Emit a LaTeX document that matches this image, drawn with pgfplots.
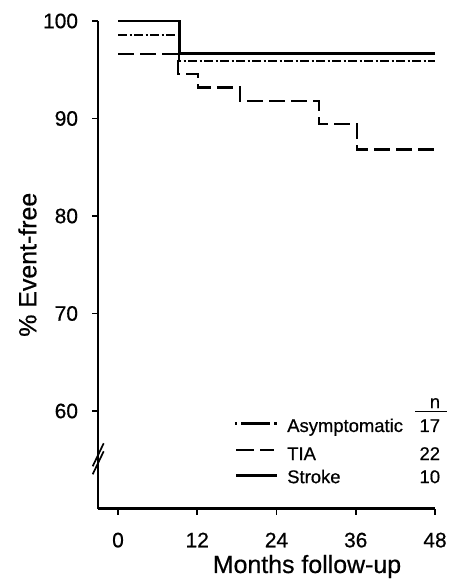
\documentclass[border=0pt]{standalone}
\usepackage{fontspec}
\setmainfont{Liberation Sans}[FakeBold=0.6]
\usepackage{pgfplots}
\pgfplotsset{compat=1.18}
\begin{document}
\begin{tikzpicture}
\useasboundingbox (-98.2bp,-73.5bp) rectangle (354.8bp,508.5bp);
\begin{axis}[
 scale only axis, width=336.8bp, height=487.5bp,
 xmin=-3, xmax=48, ymin=50, ymax=100,
 axis x line*=bottom, axis y line*=left,
 axis line style={line width=2.2bp},
 xtick={0,12,24,36,48}, ytick={60,70,80,90,100},
 tick align=outside, major tick length=6bp,
 tick style={line width=1.6bp, black},
 ticklabel style={font=\fontsize{21}{24}\selectfont},
 yticklabel style={anchor=east, inner sep=0pt, xshift=-14bp},
 xticklabel style={anchor=north, inner sep=0pt, yshift=-18bp},
 /pgf/number format/assume math mode=true,
 xlabel={Months follow-up}, ylabel={\% Event-free},
 label style={font=\fontsize{25}{28}\selectfont},
 xlabel style={at={(axis description cs:0.62,-0.1323)}, anchor=base},
 ylabel style={at={(axis description cs:-0.21,0.5)}, anchor=center},
 clip=false,
]
% Asymptomatic
\addplot[const plot, line width=2.5bp, dash pattern=on 9bp off 2.5bp on 2bp off 2.5bp] coordinates {(0,98.55) (9.2,95.9) (48,95.9)};
% TIA
\addplot[const plot, line width=2.5bp, dash pattern=on 16bp off 6bp] coordinates {(0,96.6) (9.1,94.55) (12.1,93.2) (18.5,91.8) (30.4,89.45) (36.2,86.8) (48,86.8)};
% Stroke
\addplot[const plot, line width=2.6bp] coordinates {(0,100) (9.3,96.65) (48,96.65)};

% axis break
\draw[line width=1.7bp] (axis cs:-3,55.1) ++(-5.5bp,-15.5bp) -- ++(11bp,23bp);
\draw[line width=1.7bp] (axis cs:-3,55.1) ++(-5.5bp,-7.5bp) -- ++(11bp,23bp);

% legend
\draw[line width=2.5bp, dash pattern=on 2.5bp off 4bp on 29bp off 4bp on 2.5bp] (axis cs:17.7,58.7) -- (axis cs:24.1,58.7);
\draw[line width=2.5bp, dash pattern=on 18bp off 6bp on 14bp] (axis cs:17.9,56.0) -- (axis cs:24.1,56.0);
\draw[line width=2.6bp] (axis cs:17.9,53.4) -- (axis cs:24.1,53.4);
\node[anchor=base west, font=\fontsize{18.5}{22}\selectfont, inner sep=0pt] at (axis cs:25.6,57.85) {Asymptomatic};
\node[anchor=base west, font=\fontsize{18.5}{22}\selectfont, inner sep=0pt] at (axis cs:25.6,54.97) {TIA};
\node[anchor=base west, font=\fontsize{18.5}{22}\selectfont, inner sep=0pt] at (axis cs:25.6,52.6) {Stroke};
\node[anchor=base east, font=\fontsize{18.5}{22}\selectfont, inner sep=0pt] at (axis cs:48.8,57.85) {17};
\node[anchor=base east, font=\fontsize{18.5}{22}\selectfont, inner sep=0pt] at (axis cs:48.8,54.97) {22};
\node[anchor=base east, font=\fontsize{18.5}{22}\selectfont, inner sep=0pt] at (axis cs:48.8,52.6) {10};
\node[anchor=base east, font=\fontsize{18.5}{22}\selectfont, inner sep=0pt] at (axis cs:48.8,60.3) {n};
\draw[line width=1.3bp] (axis cs:45,59.95) -- (axis cs:49.8,59.95);
\end{axis}
\end{tikzpicture}
\end{document}
